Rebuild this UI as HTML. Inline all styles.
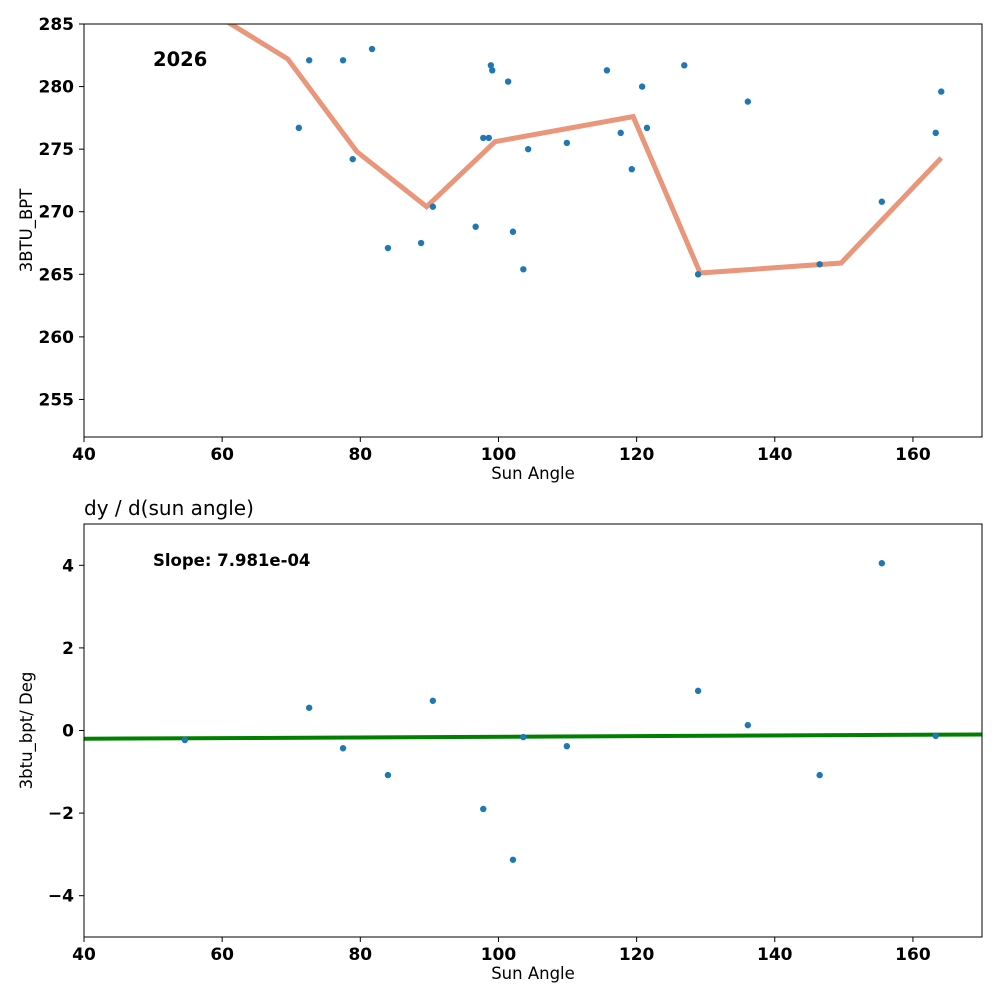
<!DOCTYPE html>
<html><head><meta charset="utf-8"><style>
body{margin:0;background:#fff;width:1000px;height:1000px;overflow:hidden}
svg text{font-family:"DejaVu Sans","Liberation Sans",sans-serif}
</style></head><body>
<svg id="c" width="1000" height="1000" xmlns="http://www.w3.org/2000/svg"></svg>
<script>
const topX=[71.1,72.6,77.5,81.7,78.9,84.0,88.8,90.5,96.7,97.8,98.6,98.9,99.1,101.4,102.1,103.6,104.3,109.9,115.7,117.7,119.3,120.8,121.5,126.9,128.9,136.1,146.5,155.5,163.3,164.1];
const topY=[276.7,282.1,282.1,283.0,274.2,267.1,267.5,270.4,268.8,275.9,275.9,281.7,281.3,280.4,268.4,265.4,275.0,275.5,281.3,276.3,273.4,280.0,276.7,281.7,265.0,278.8,265.8,270.8,276.3,279.6];
const lineX=[59.5,69.5,79.5,89.6,99.5,119.5,129.2,149.6,164.1];
const lineY=[285.6,282.2,274.8,270.4,275.6,277.6,265.1,265.9,274.3];
const botX=[54.6,72.6,77.5,84.0,90.5,97.8,102.1,103.6,109.9,128.9,136.1,146.5,155.5,163.3];
const botY=[-0.23,0.55,-0.43,-1.08,0.72,-1.90,-3.13,-0.16,-0.38,0.96,0.13,-1.08,4.05,-0.13];
const slope=0.0007981, intercept=-0.232;
const xTicks=[40,60,80,100,120,140,160];
const topTicks=[255,260,265,270,275,280,285];
const botTicks=[-4,-2,0,2,4];

const svg=document.getElementById('c');const NS='http://www.w3.org/2000/svg';
function mk(t,a,p){const e=document.createElementNS(NS,t);for(const k in a)e.setAttribute(k,a[k]);(p||svg).appendChild(e);return e;}
const L=84,R=982;
const sx=v=>L+(v-40)/130*(R-L);
function panel(top,bot,ymin,ymax,yt,ylab,name,fmt){
  const sy=v=>bot-(v-ymin)/(ymax-ymin)*(bot-top);
  const g=mk('g',{});
  
  
  const cid=name+'clip';
  const cp=mk('clipPath',{id:cid},g);mk('rect',{x:L,y:top,width:R-L,height:bot-top},cp);
  xTicks.forEach(t=>{const x=sx(t);mk('line',{x1:x,x2:x,y1:bot,y2:bot+5,stroke:'#000'},g);
    const tx=mk('text',{x:x,y:bot+23,'text-anchor':'middle','font-size':17,'font-weight':'bold'},g);tx.textContent=t;
    
    });
  yt.forEach(t=>{const y=sy(t);mk('line',{x1:L-5,x2:L,y1:y,y2:y,stroke:'#000'},g);
    const tx=mk('text',{x:L-10,y:y+6,'text-anchor':'end','font-size':17,'font-weight':'bold'},g);tx.textContent=fmt(t);
    
    });
  const xl=mk('text',{x:(L+R)/2,y:bot+42,'text-anchor':'middle','font-size':16.5},g);xl.textContent='Sun Angle';
  
  
  const cy=(top+bot)/2;
  const yl=mk('text',{x:0,y:0,transform:`translate(32,${cy}) rotate(-90)`,'text-anchor':'middle','font-size':16.5},g);yl.textContent=ylab;
  
  
  const inner=mk('g',{'clip-path':`url(#${cid})`},g);
  return {sy,inner,g,top,bot};
}
const p1=panel(24,437,252,285,topTicks,'3BTU_BPT','top',t=>t);
const p2=panel(524,937,-5,5,botTicks,'3btu_bpt/ Deg','bottom',t=>t<0?'\u2212'+(-t):t);
const pl=mk('polyline',{points:lineX.map((x,i)=>sx(x)+','+p1.sy(lineY[i])).join(' '),fill:'none',stroke:'#e9967a','stroke-width':5,'stroke-linejoin':'miter'},p1.inner);


topX.forEach((x,i)=>{const c=mk('circle',{cx:sx(x),cy:p1.sy(topY[i]),r:3.2,fill:'#1f77b4'},p1.inner);
  
  });
const fl=mk('line',{x1:sx(40),y1:p2.sy(intercept+slope*40),x2:sx(170),y2:p2.sy(intercept+slope*170),stroke:'#008000','stroke-width':4},p2.inner);


botX.forEach((x,i)=>{const c=mk('circle',{cx:sx(x),cy:p2.sy(botY[i]),r:3.2,fill:'#1f77b4'},p2.inner);
  
  });
[p1,p2].forEach(p=>{const r=mk('rect',{x:L,y:p.top,width:R-L,height:p.bot-p.top,fill:'none',stroke:'#000','stroke-width':1},p.g);
  
  });
const t1=mk('text',{x:153,y:66,'font-size':19.5,'font-weight':'bold'});t1.textContent='2026';


const t2=mk('text',{x:153,y:566,'font-size':16.5,'font-weight':'bold'});t2.textContent='Slope: 7.981e-04';


const t3=mk('text',{x:84,y:515,'font-size':20});t3.textContent='dy / d(sun angle)';


</script>
</body></html>
